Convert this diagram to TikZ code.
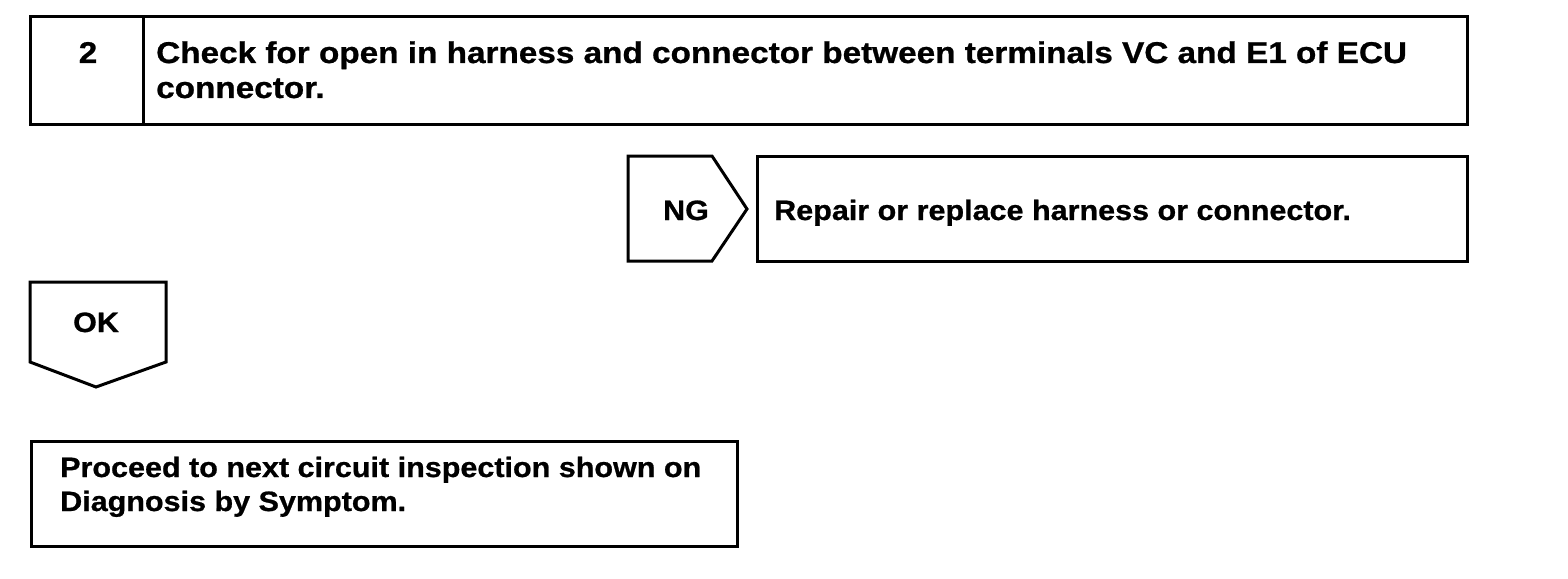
\documentclass[tikz,border=0pt]{standalone}
\usepackage{fontspec}
\setmainfont{Liberation Sans}
\newfontfamily\widefont[FakeStretch=1.09,FakeBold=0.8]{Liberation Sans}
\newfontfamily\titlefont[FakeStretch=1.11,FakeBold=0.8]{Liberation Sans}
\tikzset{
  frame/.style={draw=black, line width=3pt, line join=miter},
  lbl/.style={inner sep=0pt, font=\widefont\bfseries\fontsize{28}{34}\selectfont},
  ttl/.style={inner sep=0pt, font=\titlefont\bfseries\fontsize{30}{35}\selectfont},
}
\begin{document}
\begin{tikzpicture}[x=1pt,y=-1pt]
\useasboundingbox (0,0) rectangle (1568,578);
% step box
\draw[frame] (30,17) rectangle (1467,124);
\draw[frame] (143,17) -- (143,124);
\node[ttl, anchor=base] (num) at (88,63) {2};
\node[ttl, anchor=base west] (title) at (156,63) {\begin{tabular}[t]{@{}l@{}}Check for open in harness and connector between terminals VC and E1 of ECU\\connector.\end{tabular}};
% NG branch
\draw[frame] (628,156) -- (712,156) -- (747,209) -- (712,261) -- (628,261) -- cycle;
\node[lbl, anchor=base] (ng) at (686,220) {NG};
\draw[frame] (757,156) rectangle (1467,261);
\node[lbl, anchor=base west] (repair) at (774,220) {Repair or replace harness or connector.};
% OK branch
\draw[frame] (30,282) -- (166,282) -- (166,362) -- (96,387) -- (30,362) -- cycle;
\node[lbl, anchor=base] (ok) at (96,332) {OK};
\draw[frame] (31,441) rectangle (737,546);
\node[lbl, anchor=base west] (proceed) at (60,477) {\begin{tabular}[t]{@{}l@{}}Proceed to next circuit inspection shown on\\Diagnosis by Symptom.\end{tabular}};
\end{tikzpicture}
\end{document}
